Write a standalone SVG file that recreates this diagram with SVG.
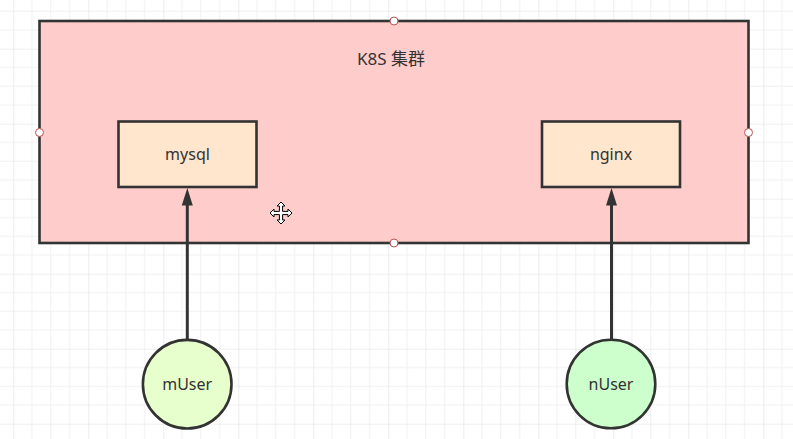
<svg xmlns="http://www.w3.org/2000/svg" width="793" height="439" viewBox="0 0 793 439">
  <style>
    .box { stroke: #333333; stroke-width: 2.6; }
    .lbl { font-family: "Noto Sans", "Noto Sans CJK SC", "Liberation Sans", sans-serif; font-size: 16px; fill: #333333; text-anchor: middle; }
    .edge { stroke: #333333; stroke-width: 3; fill: none; }
    .head { fill: #333333; }
    .handle { fill: #ffffff; stroke: #b85450; stroke-width: 1; }
  </style>
  <defs>
    <pattern id="grid" patternUnits="userSpaceOnUse" x="13.3" y="48.7" width="75" height="75">
      <path d="M18.75 0V75M37.5 0V75M56.25 0V75M0 18.75H75M0 37.5H75M0 56.25H75" stroke="#f0f0f0" stroke-width="1" fill="none"/>
      <path d="M0 0V75M0 0H75" stroke="#e0e0e0" stroke-width="1.2" fill="none"/>
    </pattern>
  </defs>
  <rect x="0" y="0" width="793" height="439" fill="#ffffff"/>
  <rect x="0" y="0" width="793" height="439" fill="url(#grid)"/>

  <g id="cluster">
    <rect class="box" x="39.5" y="21" width="709" height="222" fill="#ffcccc"/>
    <text class="lbl" x="391" y="64.5" style="font-size:17px">K8S 集群</text>
  </g>

  <g id="mysql">
    <rect class="box" x="118.5" y="121.5" width="138" height="65.5" fill="#ffe6cc"/>
    <text class="lbl" x="187.5" y="159.5">mysql</text>
  </g>

  <g id="nginx">
    <rect class="box" x="542" y="121.5" width="138" height="65.5" fill="#ffe6cc"/>
    <text class="lbl" x="611" y="159.5">nginx</text>
  </g>

  <g id="mUser">
    <circle class="box" cx="187.2" cy="384.2" r="44.3" fill="#e6ffcc"/>
    <text class="lbl" x="187.2" y="389.5">mUser</text>
  </g>

  <g id="nUser">
    <circle class="box" cx="611" cy="384" r="44.3" fill="#ccffcc"/>
    <text class="lbl" x="611" y="389.5">nUser</text>
  </g>

  <g id="connectors">
    <path class="edge" d="M187.3 340V205"/>
    <path class="head" d="M181.8 205.5L187.3 188L192.8 205.5Z"/>
    <path class="edge" d="M611.5 340V205"/>
    <path class="head" d="M606 205.5L611.5 188L617 205.5Z"/>
  </g>

  <g id="selection">
    <circle class="handle" cx="394" cy="21" r="4"/>
    <circle class="handle" cx="39.5" cy="132.5" r="4"/>
    <circle class="handle" cx="748.5" cy="132.5" r="4"/>
    <circle class="handle" cx="394" cy="243" r="4"/>
  </g>

  <g id="cursor" transform="translate(281 213)">
    <path d="M0 -11L4 -7H1.6V-1.6H7V-4L11 0L7 4V1.6H1.6V7H4L0 11L-4 7H-1.6V1.6H-7V4L-11 0L-7 -4V-1.6H-1.6V-7H-4Z" fill="#ffffff" stroke="#000000" stroke-width="1"/>
  </g>
</svg>
